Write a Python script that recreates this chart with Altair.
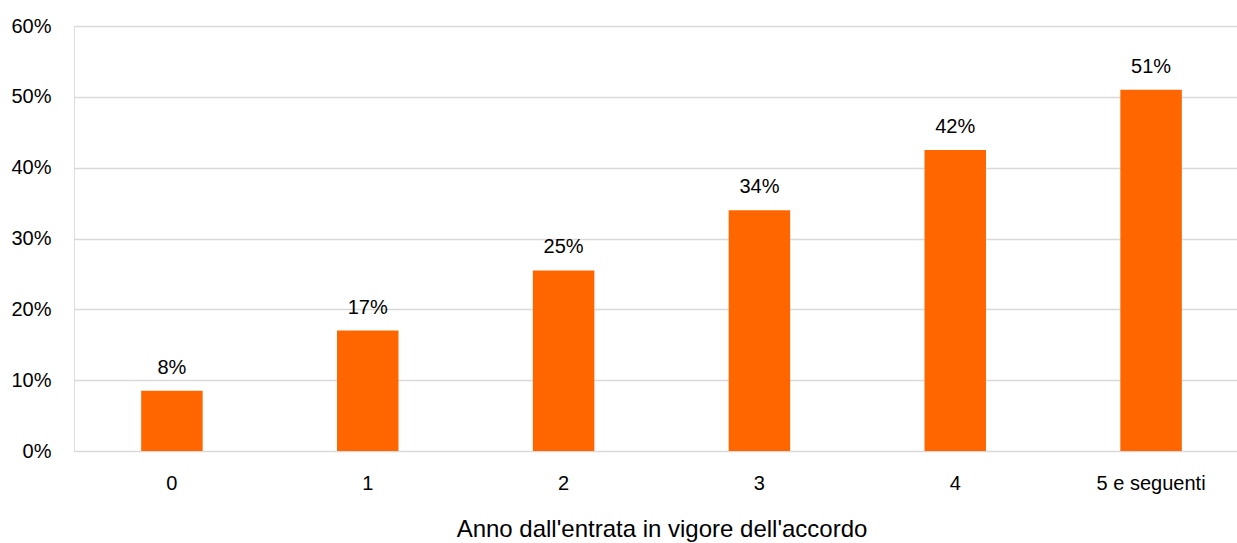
import altair as alt
import pandas as pd

categories = ["0", "1", "2", "3", "4", "5 e seguenti"]
values = [0.0849, 0.17, 0.2549, 0.34, 0.4249, 0.51]
value_labels = ["8%", "17%", "25%", "34%", "42%", "51%"]
y_ticks = [0, 0.1, 0.2, 0.3, 0.4, 0.5, 0.6]

df = pd.DataFrame({"cat": categories, "val": values, "lab": value_labels})

FONT = "Liberation Sans"

x = alt.X(
    "cat:N",
    sort=categories,
    title="Anno dall'entrata in vigore dell'accordo",
    scale=alt.Scale(range=[0, 1175], paddingInner=0.686, paddingOuter=0.343),
    axis=alt.Axis(labelAngle=0, domain=False, ticks=False, labelPadding=22,
                  labelFontSize=20, titleFontSize=24, titlePadding=24,
                  labelColor="#000000", titleColor="#000000", titleFontWeight="normal",
                  labelFont=FONT, titleFont=FONT),
)
y = alt.Y(
    "val:Q",
    title=None,
    scale=alt.Scale(domain=[0, 0.6], nice=False),
    axis=alt.Axis(values=y_ticks, format=".0%", domain=False, ticks=False,
                  labelPadding=23, labelFontSize=20, labelColor="#000000",
                  labelFont=FONT, gridColor="#d9d9d9", gridWidth=1.5),
)

bars = alt.Chart(df).mark_bar(color="#FF6600").encode(x=x, y=y)
labels = alt.Chart(df).mark_text(
    dy=-17, baseline="alphabetic", fontSize=20, font=FONT, color="#000000"
).encode(x=alt.X("cat:N", sort=categories), y="val:Q", text="lab:N")

chart = (
    (bars + labels)
    .properties(
        width=1163,
        height=425,
        autosize=alt.AutoSizeParams(type="none"),
        padding={"left": 74, "top": 26, "right": 0, "bottom": 92},
    )
    .configure_view(stroke=None)
    .configure(background="white")
)

chart.save("out.html", embed_options={"renderer": "svg", "actions": False})
